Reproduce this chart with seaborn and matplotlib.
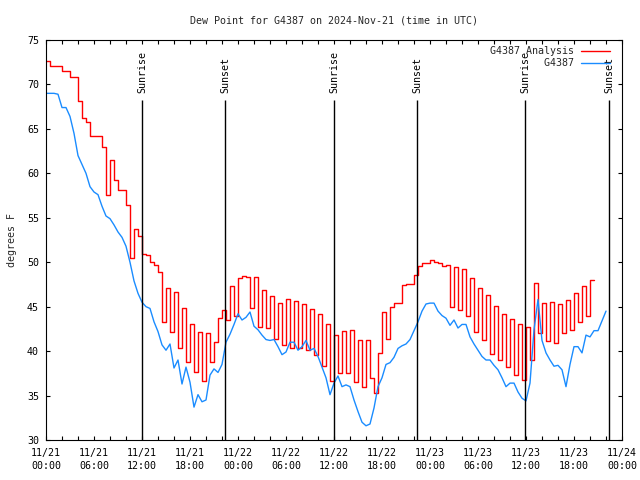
import numpy as np
import pandas as pd
import matplotlib
matplotlib.use("Agg")
import matplotlib.pyplot as plt
import seaborn as sns

# ---------------- data ----------------
title = "Dew Point for G4387 on 2024-Nov-21 (time in UTC)"
ylabel = "degrees F"
series_names = ["G4387 Analysis", "G4387"]
step_hours = 0.5  # sampling interval of both series (hours since 11/21 00:00)

analysis_values = [
    72.6, 72.1, 72.1, 72.1, 71.5, 71.5, 70.8, 70.8, 68.1, 66.2,
    65.8, 64.2, 64.2, 64.2, 63.0, 57.6, 61.5, 59.2, 58.1, 58.1,
    56.4, 50.5, 53.7, 52.9, 50.9, 50.8, 50.0, 49.7, 48.9, 43.3,
    47.1, 42.2, 46.7, 40.3, 44.8, 38.8, 43.1, 37.7, 42.2, 36.6,
    42.0, 38.8, 41.0, 43.7, 44.6, 43.5, 47.3, 44.0, 48.2, 48.4,
    48.3, 44.8, 48.3, 42.7, 46.9, 42.6, 46.2, 41.4, 45.4, 40.7,
    45.9, 40.4, 45.6, 40.3, 45.3, 40.1, 44.7, 39.6, 44.2, 38.3,
    43.1, 36.6, 41.8, 37.5, 42.3, 37.5, 42.4, 36.5, 41.3, 36.0,
    41.3, 37.0, 35.3, 39.8, 44.4, 41.4, 45.0, 45.4, 45.4, 47.4,
    47.6, 47.6, 48.6, 49.6, 49.95, 49.9, 50.3, 50.0, 49.9, 49.6,
    49.7, 45.0, 49.5, 44.6, 49.2, 43.9, 48.2, 42.2, 47.1, 41.2,
    46.3, 39.7, 45.1, 39.0, 44.2, 38.2, 43.6, 37.3, 43.1, 36.8,
    42.7, 39.0, 47.7, 42.0, 45.4, 41.1, 45.5, 40.9, 45.3, 42.0,
    45.7, 42.4, 46.5, 43.3, 47.3, 43.9, 48.0, 48.0,
]

station_values = [
    69.0, 69.0, 69.0, 68.9, 67.4, 67.4, 66.4, 64.5, 62.0, 61.0,
    60.0, 58.5, 57.9, 57.6, 56.3, 55.2, 54.9, 54.2, 53.4, 52.8,
    51.8, 50.0, 47.9, 46.5, 45.5, 45.0, 44.8, 43.3, 42.2, 40.7,
    40.1, 40.8, 38.1, 39.0, 36.3, 38.2, 36.5, 33.7, 35.1, 34.3,
    34.5, 37.3, 38.0, 37.6, 38.5, 41.0, 41.9, 43.0, 44.2, 43.5,
    43.8, 44.4, 42.8, 42.4, 41.8, 41.3, 41.2, 41.3, 40.5, 39.6,
    39.9, 41.0, 41.0, 40.1, 40.5, 41.2, 40.1, 40.3, 39.4, 38.2,
    37.0, 35.1, 36.4, 37.2, 36.0, 36.2, 36.0, 34.5, 33.2, 32.0,
    31.6, 31.8, 33.6, 36.0, 37.0, 38.5, 38.7, 39.3, 40.3, 40.6,
    40.8, 41.3, 42.3, 43.3, 44.5, 45.3, 45.4, 45.4, 44.5, 44.0,
    43.7, 42.9, 43.5, 42.6, 43.0, 43.0, 41.6, 40.8, 40.1, 39.4,
    39.0, 39.0, 38.4, 37.9, 37.0, 36.0, 36.4, 36.4, 35.4, 34.7,
    34.4, 36.4, 42.4, 45.8, 41.2, 39.8, 39.0, 38.3, 38.4, 37.9,
    36.0, 38.5, 40.5, 40.5, 39.8, 41.8, 41.6, 42.3, 42.3, 43.4,
    44.5,
]

sunrise_hours = [12.05, 36.05, 59.9]
sunset_hours = [22.4, 46.4, 70.4]

xtick_hours = [0, 6, 12, 18, 24, 30, 36, 42, 48, 54, 60, 66, 72]
xtick_labels = ["11/21\n00:00", "11/21\n06:00", "11/21\n12:00", "11/21\n18:00",
                "11/22\n00:00", "11/22\n06:00", "11/22\n12:00", "11/22\n18:00",
                "11/23\n00:00", "11/23\n06:00", "11/23\n12:00", "11/23\n18:00",
                "11/24\n00:00"]
ytick_values = [30, 35, 40, 45, 50, 55, 60, 65, 70, 75]

# ---------------- plotting ----------------
sns.set_theme(style="white")
plt.rcParams["font.family"] = ["DejaVu Sans Mono", "DejaVu Sans"]
FS = 7.2

analysis_df = pd.DataFrame({"hour": np.arange(len(analysis_values)) * step_hours,
                            "value": analysis_values})
station_df = pd.DataFrame({"hour": np.arange(len(station_values)) * step_hours,
                           "value": station_values})

fig = plt.figure(figsize=(6.4, 4.8), dpi=100)
ax = fig.add_axes([46 / 640, 40 / 480, 576 / 640, 400 / 480])

sns.lineplot(data=analysis_df, x="hour", y="value", ax=ax, color="#ff0000",
             linewidth=1.0, drawstyle="steps-post", estimator=None, sort=False,
             label=series_names[0])
sns.lineplot(data=station_df, x="hour", y="value", ax=ax, color="#1a8cff",
             linewidth=1.0, estimator=None, sort=False,
             label="         " + series_names[1])

ax.set_xlim(0, 72)
ax.set_ylim(30, 75)

line_top = 68.3
text_base = 69.0
for h in sunrise_hours:
    ax.vlines(h, 30, line_top, color="black", linewidth=1.0)
    ax.text(h, text_base, "Sunrise", rotation=90, ha="center", va="bottom",
            fontsize=FS, color="black")
for h in sunset_hours:
    ax.vlines(h, 30, line_top, color="black", linewidth=1.0)
    ax.text(h, text_base, "Sunset", rotation=90, ha="center", va="bottom",
            fontsize=FS, color="black")

ax.set_xticks(xtick_hours)
ax.set_xticklabels(xtick_labels, fontsize=FS, linespacing=1.3)
ax.set_xticks(np.arange(0, 73, 2), minor=True)
ax.set_yticks(ytick_values)
ax.set_yticklabels([str(v) for v in ytick_values], fontsize=FS)

ax.tick_params(axis="both", which="both", direction="in", top=True, right=True,
               bottom=True, left=True, length=3.2, width=0.8, colors="black")
ax.tick_params(axis="x", which="major", pad=6)
ax.tick_params(axis="y", which="major", pad=5)

for sp in ax.spines.values():
    sp.set_visible(True)
    sp.set_color("black")
    sp.set_linewidth(0.8)

ax.set_xlabel("")
ax.set_ylabel(ylabel, fontsize=FS)
ax.yaxis.set_label_coords(-0.05, 0.5)
ax.set_title(title, fontsize=FS, pad=12)

ax.legend(loc="upper right", bbox_to_anchor=(1 - 4 / 576, 1 + 2 / 400),
          frameon=False, markerfirst=False, fontsize=FS,
          handlelength=2.9, handletextpad=0.7, labelspacing=0.2,
          borderaxespad=0.4, borderpad=0.4)

fig.savefig("out.png", dpi=100)
